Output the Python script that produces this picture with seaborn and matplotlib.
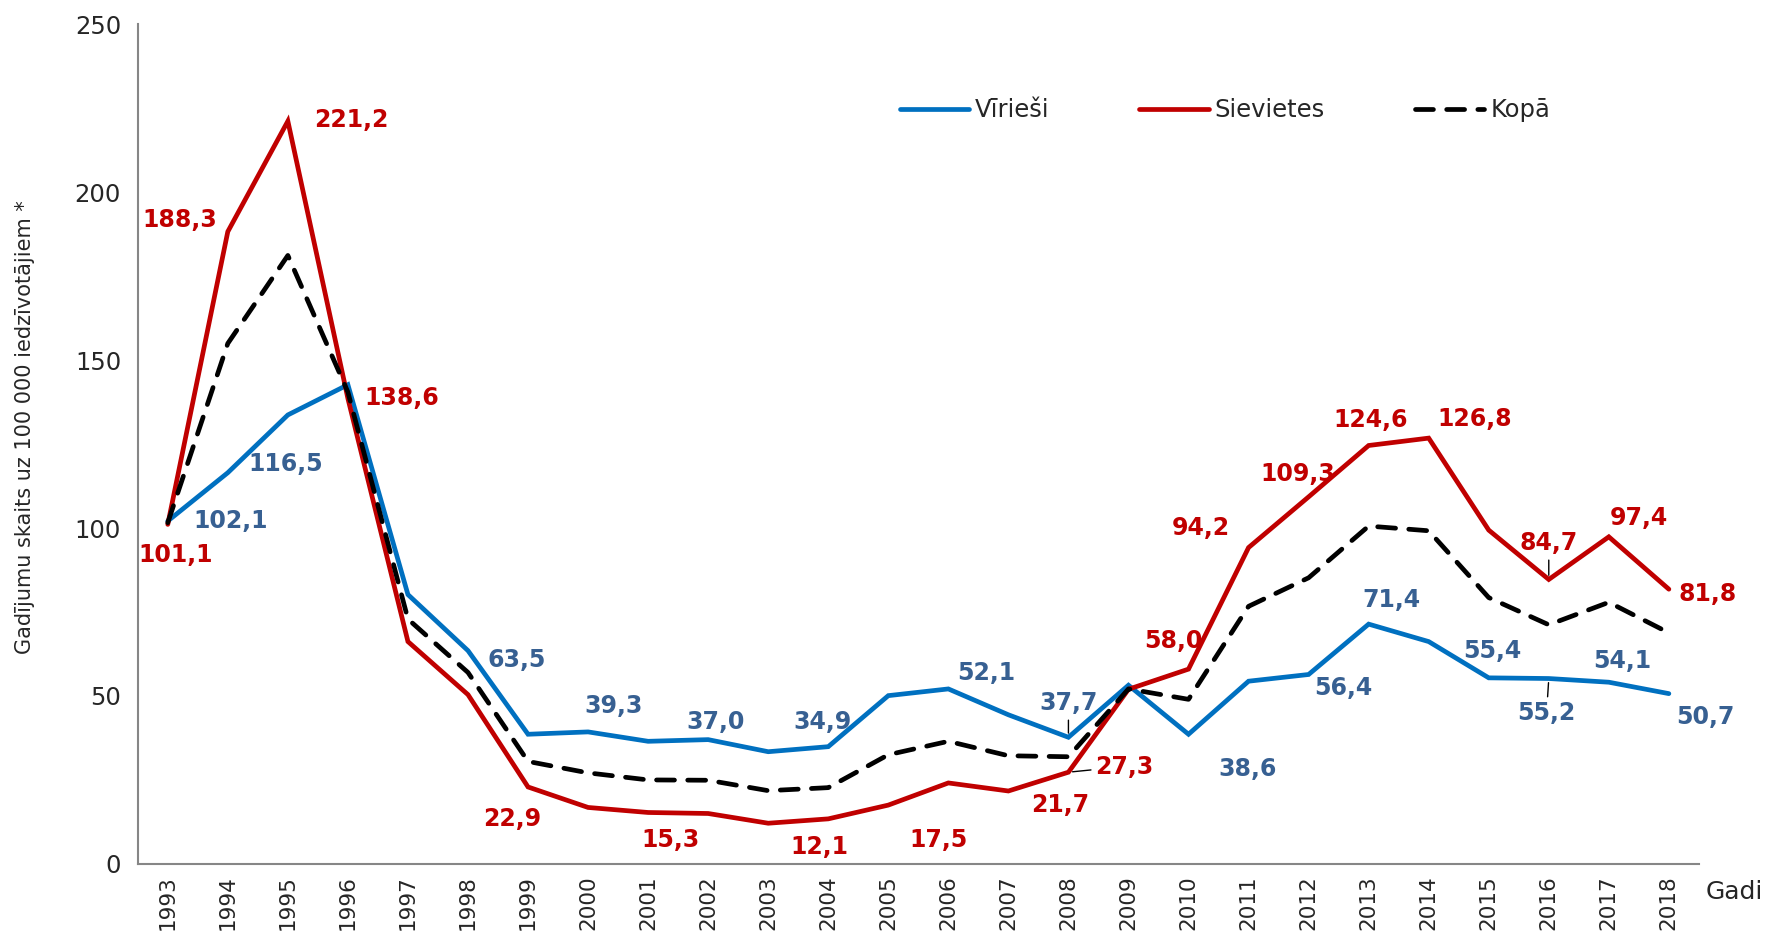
import matplotlib
matplotlib.use("Agg")
import matplotlib.pyplot as plt
import pandas as pd
import seaborn as sns

years = list(range(1993, 2019))
virieshi = [102.1, 116.5, 133.7, 142.7, 80.2, 63.5, 38.6, 39.3, 36.5, 37.0, 33.4, 34.9, 50.1,
            52.1, 44.4, 37.7, 53.2, 38.6, 54.4, 56.4, 71.4, 66.2, 55.4, 55.2, 54.1, 50.7]
sievietes = [101.1, 188.3, 221.2, 138.6, 66.2, 50.4, 22.9, 16.8, 15.3, 15.0, 12.1, 13.4, 17.5,
             24.1, 21.7, 27.3, 52.0, 58.0, 94.2, 109.3, 124.6, 126.8, 99.4, 84.7, 97.4, 81.8]
kopa = [101.6, 155.0, 181.2, 140.5, 72.9, 57.0, 30.5, 27.1, 25.0, 24.9, 21.8, 22.7, 32.5,
        36.5, 32.2, 31.9, 52.1, 49.0, 76.7, 85.2, 100.6, 99.2, 79.3, 71.2, 77.9, 68.8]

# which points get a value label: year -> (dx, dy) offset in px, leader line flag
lbl_blue = {1993: (56, 0, 0), 1994: (51, 8, 0), 1998: (43, -8, 0), 2000: (23, 23, 0),
            2002: (7, 16, 0), 2004: (-5, 22, 0), 2006: (34, 14, 0), 2008: (0, 30, 1),
            2010: (52, -31, 0), 2012: (31, -12, 0), 2013: (20, 21, 0), 2015: (3, 24, 0),
            2016: (-2, -31, 1), 2017: (12, 19, 0), 2018: (32, -21, 0)}
lbl_red = {1993: (7, -27, 0), 1994: (-43, 10, 0), 1995: (56, 1, 0), 1996: (48, 0, 0),
           1999: (-14, -28, 0), 2001: (20, -24, 0), 2003: (45, -21, 0), 2005: (45, -31, 0),
           2007: (46, -12, 0), 2008: (50, 5, 1), 2010: (-13, 25, 0), 2011: (-42, 17, 0),
           2012: (-10, 20, 0), 2013: (2, 23, 0), 2014: (41, 17, 0), 2016: (0, 32, 1),
           2017: (27, 17, 0), 2018: (34, -4, 0)}

sns.set_style("white")
plt.rcParams["font.family"] = ["DejaVu Sans"]

df = pd.DataFrame({"Gads": years, "Vīrieši": virieshi, "Sievietes": sievietes, "Kopā": kopa})

fig, ax = plt.subplots(figsize=(17.66, 9.40), dpi=100)
fig.subplots_adjust(left=0.078, right=0.962, bottom=0.081, top=0.974)

sns.lineplot(data=df, x="Gads", y="Vīrieši", ax=ax, color="#0070C0", lw=3.4, label="Vīrieši")
sns.lineplot(data=df, x="Gads", y="Sievietes", ax=ax, color="#C00000", lw=3.4, label="Sievietes")
sns.lineplot(data=df, x="Gads", y="Kopā", ax=ax, color="black", lw=3.4, label="Kopā",
             dashes=False)
ax.lines[2].set_dashes((3.8, 2.8))
ax.lines[2].set_dash_capstyle("round")
for ln in ax.lines[:2]:
    ln.set_solid_joinstyle("miter")


def put_labels(series, spec, color):
    for yr, (dx, dy, lead) in spec.items():
        v = series[years.index(yr)]
        kw = {}
        if lead:
            kw["arrowprops"] = dict(arrowstyle="-", color="black", lw=1, shrinkA=1, shrinkB=3)
        ax.annotate(f"{v:.1f}".replace(".", ","), xy=(yr, v),
                    xytext=(dx * 0.811, dy * 0.811), textcoords="offset points",
                    ha="center", va="center", fontsize=17, fontweight="bold",
                    color=color, **kw)


put_labels(virieshi, lbl_blue, "#376092")
put_labels(sievietes, lbl_red, "#C00000")

ax.set_xlim(1992.5, 2018.5)
ax.set_ylim(0, 250)
ax.set_yticks(range(0, 251, 50))
ax.set_xticks(years)
ax.set_xticklabels([str(y) for y in years], rotation=90)
ax.set_xticks([y - 0.5 for y in years] + [2018.5], minor=True)
ax.tick_params(axis="x", which="major", length=0, labelsize=15.5, pad=8)
ax.tick_params(axis="x", which="minor", length=7, width=1.5, color="#868686")
ax.tick_params(axis="y", length=7, width=1.5, color="#868686", labelsize=17.5, pad=5)
ax.tick_params(axis="both", direction="out")

for s in ["top", "right"]:
    ax.spines[s].set_visible(False)
for s in ["left", "bottom"]:
    ax.spines[s].set_color("#868686")
    ax.spines[s].set_linewidth(1.5)

ax.set_xlabel("")
ax.set_ylabel("Gadījumu skaits uz 100 000 iedzīvotājiem *", fontsize=15)
ax.yaxis.set_label_coords(-0.066, 0.52)
ax.text(1.004, -0.034, "Gadi", transform=ax.transAxes, fontsize=18, ha="left", va="center")

ax.legend(loc="center left", bbox_to_anchor=(0.474, 0.898), ncol=3, frameon=False,
          fontsize=17.5, handlelength=2.85, columnspacing=3.7, handletextpad=0.25)

plt.savefig("out.png", dpi=100)
